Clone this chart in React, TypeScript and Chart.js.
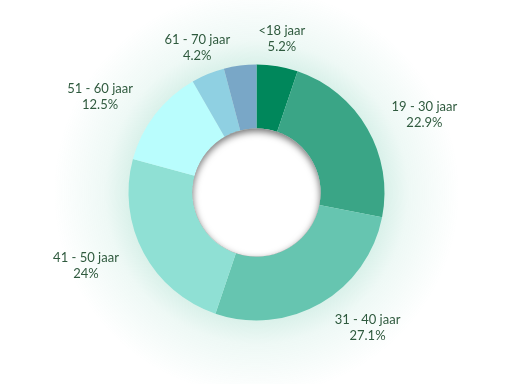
import React, { useEffect, useRef } from "react";
import { Chart, registerables } from "chart.js";

Chart.register(...registerables);

const categories = ["<18 jaar", "19 - 30 jaar", "31 - 40 jaar", "41 - 50 jaar", "51 - 60 jaar", "61 - 70 jaar", ""];
const values = [5.2, 22.9, 27.1, 24, 12.5, 4.2, 4.1];
const valueLabels = ["5.2%", "22.9%", "27.1%", "24%", "12.5%", "4.2%", ""];
const colors = ["#00875b", "#3aa586", "#66c5b0", "#8fe0d4", "#b9fdfd", "#8fd0e2", "#79a7c7"];

const glowPlugin = {
  id: "glow",
  beforeDatasetsDraw(chart: any) {
    const meta = chart.getDatasetMeta(0);
    const arc = meta.data[0];
    if (!arc) return;
    const { x, y, outerRadius } = arc;
    const ctx = chart.ctx;
    ctx.save();
    const g = ctx.createRadialGradient(x, y, outerRadius - 4, x, y, outerRadius + 75);
    g.addColorStop(0, "rgba(70,185,150,0.22)");
    g.addColorStop(0.35, "rgba(70,185,150,0.09)");
    g.addColorStop(1, "rgba(70,185,150,0)");
    ctx.fillStyle = g;
    ctx.beginPath();
    ctx.arc(x, y, outerRadius + 75, 0, Math.PI * 2);
    ctx.fill();
    ctx.restore();
  },
};

const holePlugin = {
  id: "hole",
  afterDatasetsDraw(chart: any) {
    const meta = chart.getDatasetMeta(0);
    const arc = meta.data[0];
    if (!arc) return;
    const { x, y, innerRadius } = arc;
    const ctx = chart.ctx;
    ctx.save();
    ctx.beginPath();
    ctx.arc(x, y, innerRadius, 0, Math.PI * 2);
    ctx.fillStyle = "#ffffff";
    ctx.fill();
    ctx.clip();
    ctx.beginPath();
    ctx.rect(x - innerRadius - 60, y - innerRadius - 60, innerRadius * 2 + 120, innerRadius * 2 + 120);
    ctx.arc(x, y, innerRadius, 0, Math.PI * 2, true);
    ctx.shadowColor = "rgba(0,0,0,0.55)";
    ctx.shadowBlur = 7;
    ctx.shadowOffsetY = 3;
    ctx.fillStyle = "#888";
    ctx.fill("evenodd");
    ctx.restore();
  },
};

const labelPlugin = {
  id: "outerLabels",
  afterDraw(chart: any) {
    const meta = chart.getDatasetMeta(0);
    const ctx = chart.ctx;
    ctx.save();
    ctx.font = "13px Lato, 'Noto Sans', sans-serif";
    ctx.fillStyle = "#2f5a3e";
    ctx.textBaseline = "middle";
    ctx.textAlign = "center";
    meta.data.forEach((arc: any, i: number) => {
      const name = categories[i];
      if (!name) return;
      const mid = (arc.startAngle + arc.endAngle) / 2;
      const r = arc.outerRadius + 28;
      const px = arc.x + Math.cos(mid) * r;
      const py = arc.y + Math.sin(mid) * r;
      const s = Math.cos(mid);
      const w = Math.max(ctx.measureText(name).width, ctx.measureText(valueLabels[i]).width);
      let cx = px;
      if (Math.abs(s) >= 0.45) cx = s > 0 ? px + w / 2 : px - w / 2;
      ctx.fillText(name, cx, py - 8);
      ctx.fillText(valueLabels[i], cx, py + 8);
    });
    ctx.restore();
  },
};

export default function App() {
  const ref = useRef<HTMLCanvasElement>(null);
  useEffect(() => {
    document.body.style.margin = "0";
    const chart = new Chart(ref.current!, {
      type: "doughnut",
      data: {
        labels: categories,
        datasets: [
          {
            data: values,
            backgroundColor: colors,
            borderWidth: 0,
          },
        ],
      },
      options: {
        responsive: false,
        animation: false,
        radius: 128,
        cutout: "50%",
        layout: { padding: { left: 1, top: 1 } },
        plugins: {
          legend: { display: false },
          tooltip: { enabled: false },
        },
      } as any,
      plugins: [glowPlugin, holePlugin, labelPlugin],
    });
    return () => chart.destroy();
  }, []);
  return <canvas ref={ref} width={512} height={384} style={{ display: "block", width: 512, height: 384 }} />;
}
